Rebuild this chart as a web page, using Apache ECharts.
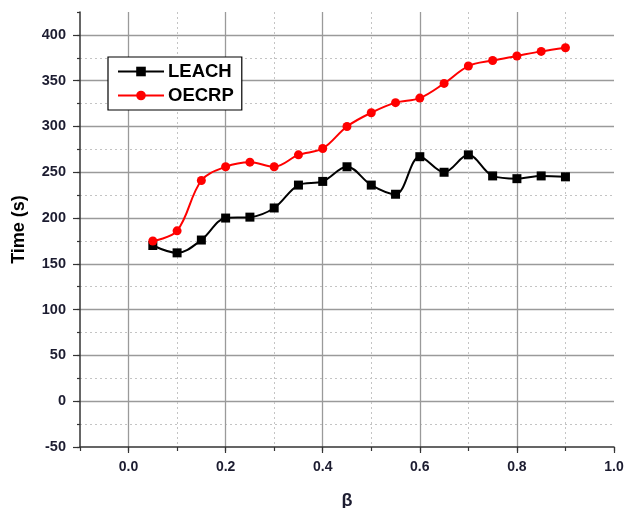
<!DOCTYPE html>
<html><head><meta charset="utf-8">
<script src="https://cdn.jsdelivr.net/npm/echarts@6/dist/echarts.min.js"></script>
<style>html,body{margin:0;padding:0;background:#fff}#c{width:626px;height:508px}</style>
</head><body><div id="c"></div>
<script>
const betaValues = [0.05,0.1,0.15,0.2,0.25,0.3,0.35,0.4,0.45,0.5,0.55,0.6,0.65,0.7,0.75,0.8,0.85,0.9];
const leachTime = [170,162,176,200,201,211,236,240,256,236,226,267,250,269,246,243,246,245];
const oecrpTime = [175,186,241,256,261,256,269,276,300,315,326,331,347,366,372,377,382,386];
const seriesNames = ['LEACH','OECRP'];
const xTitle = 'β';
const yTitle = 'Time (s)';

const font = '"Liberation Sans", Arial, sans-serif';
const labelColor = '#1c1c30';
const chart = echarts.init(document.getElementById('c'));
const pts = arr => betaValues.map((b,i)=>[b, arr[i]]);
chart.setOption({
  animation:false,
  backgroundColor:'#fff',
  grid:{left:80,right:12,top:12,bottom:61,containLabel:false,outerBoundsMode:'none'},
  legend:{
    orient:'vertical', left:108, top:57,
    backgroundColor:'#fff', borderColor:'#000', borderWidth:1.2,
    padding:[5,8,5,9], itemGap:5, itemWidth:46, itemHeight:12,
    textStyle:{fontFamily:font,fontWeight:'bold',fontSize:18.5,color:'#000',padding:[0,0,0,-1]},
    data:seriesNames
  },
  xAxis:[
    {type:'value',min:-0.1,max:1.0,interval:0.1,position:'bottom',
     axisLine:{show:false,onZero:false},axisTick:{show:true,length:4,lineStyle:{color:'#333',width:1.2}},
     axisLabel:{show:false},
     splitLine:{show:true,showMinLine:false,showMaxLine:false,lineStyle:{color:'#c4c4c4',type:[2,3],width:1}}},
    {type:'value',min:-0.1,max:1.0,position:'bottom',splitNumber:5,
     name:xTitle,nameLocation:'middle',nameGap:45,
     nameTextStyle:{fontFamily:font,fontWeight:'bold',fontSize:18,color:labelColor},
     axisLine:{show:true,onZero:false,lineStyle:{color:'#333',width:1.5}},
     axisTick:{show:true,length:6,lineStyle:{color:'#333',width:1.2}},
     axisLabel:{show:true,showMinLabel:false,margin:13,fontFamily:font,fontWeight:'bold',fontSize:14,color:labelColor,
       formatter:v=>v.toFixed(1)},
     splitLine:{show:true,showMinLine:false,showMaxLine:false,lineStyle:{color:'#9a9a9a',width:1.3}}}
  ],
  yAxis:[
    {type:'value',min:-50,max:425,interval:25,
     axisLine:{show:false,onZero:false},axisTick:{show:true,length:3,lineStyle:{color:'#333',width:1.2}},
     axisLabel:{show:false},
     splitLine:{show:true,showMinLine:false,showMaxLine:false,lineStyle:{color:'#c4c4c4',type:[2,3],width:1}}},
    {type:'value',min:-50,max:425,interval:50,position:'left',
     name:yTitle,nameLocation:'middle',nameGap:52,nameRotate:90,
     nameTextStyle:{fontFamily:font,fontWeight:'bold',fontSize:18,color:'#000'},
     axisLine:{show:true,onZero:false,lineStyle:{color:'#333',width:1.5}},
     axisTick:{show:true,length:7,lineStyle:{color:'#333',width:1.2}},
     axisLabel:{show:true,showMaxLabel:false,margin:14,fontFamily:font,fontWeight:'bold',fontSize:14.5,color:labelColor},
     splitLine:{show:true,showMinLine:false,showMaxLine:false,lineStyle:{color:'#9a9a9a',width:1.3}}}
  ],
  series:[
    {name:seriesNames[0],type:'line',xAxisIndex:0,yAxisIndex:0,data:pts(leachTime),
     smooth:0.35,symbol:'rect',symbolSize:9,
     lineStyle:{color:'#000',width:2},itemStyle:{color:'#000'}},
    {name:seriesNames[1],type:'line',xAxisIndex:0,yAxisIndex:0,data:pts(oecrpTime),
     smooth:0.35,symbol:'circle',symbolSize:9,
     lineStyle:{color:'#ff0000',width:2},itemStyle:{color:'#ff0000'}}
  ]
});
</script></body></html>
